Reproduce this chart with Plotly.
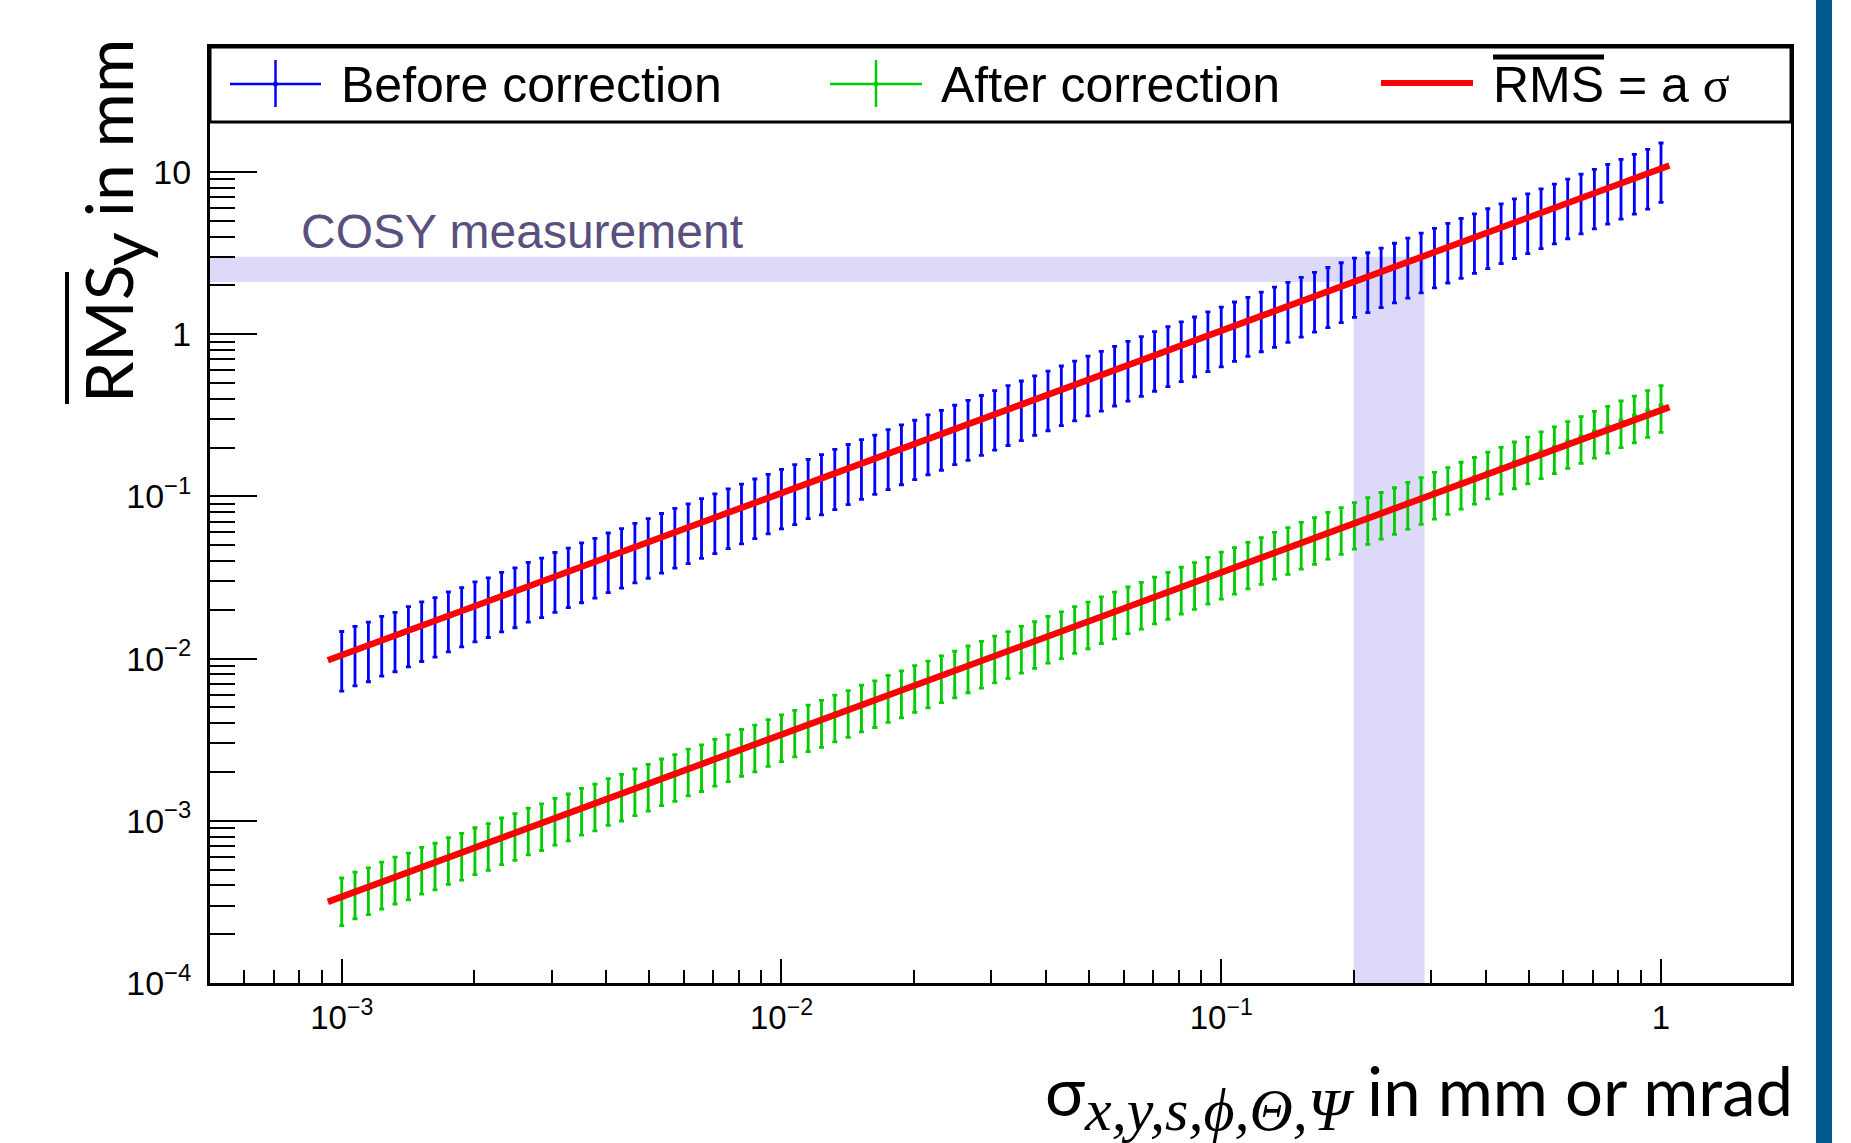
import plotly.graph_objects as go

# ---------------- data ----------------
sigma = [
    1.000e-3, 1.072e-3, 1.150e-3, 1.233e-3, 1.322e-3, 1.418e-3, 1.520e-3, 1.630e-3, 1.748e-3, 1.874e-3,
    2.009e-3, 2.154e-3, 2.310e-3, 2.477e-3, 2.656e-3, 2.848e-3, 3.054e-3, 3.275e-3, 3.511e-3, 3.765e-3,
    4.037e-3, 4.329e-3, 4.642e-3, 4.977e-3, 5.337e-3, 5.722e-3, 6.136e-3, 6.579e-3, 7.055e-3, 7.565e-3,
    8.111e-3, 8.697e-3, 9.326e-3,
    1.000e-2, 1.072e-2, 1.150e-2, 1.233e-2, 1.322e-2, 1.418e-2, 1.520e-2, 1.630e-2, 1.748e-2, 1.874e-2,
    2.009e-2, 2.154e-2, 2.310e-2, 2.477e-2, 2.656e-2, 2.848e-2, 3.054e-2, 3.275e-2, 3.511e-2, 3.765e-2,
    4.037e-2, 4.329e-2, 4.642e-2, 4.977e-2, 5.337e-2, 5.722e-2, 6.136e-2, 6.579e-2, 7.055e-2, 7.565e-2,
    8.111e-2, 8.697e-2, 9.326e-2,
    1.000e-1, 1.072e-1, 1.150e-1, 1.233e-1, 1.322e-1, 1.418e-1, 1.520e-1, 1.630e-1, 1.748e-1, 1.874e-1,
    2.009e-1, 2.154e-1, 2.310e-1, 2.477e-1, 2.656e-1, 2.848e-1, 3.054e-1, 3.275e-1, 3.511e-1, 3.765e-1,
    4.037e-1, 4.329e-1, 4.642e-1, 4.977e-1, 5.337e-1, 5.722e-1, 6.136e-1, 6.579e-1, 7.055e-1, 7.565e-1,
    8.111e-1, 8.697e-1, 9.326e-1,
    1.000,
]

rms_before = [
    1.05e-2, 1.13e-2, 1.20e-2, 1.30e-2, 1.38e-2, 1.49e-2, 1.60e-2, 1.70e-2, 1.84e-2, 1.96e-2,
    2.12e-2, 2.25e-2, 2.43e-2, 2.59e-2, 2.80e-2, 2.98e-2, 3.22e-2, 3.43e-2, 3.69e-2, 3.94e-2,
    4.25e-2, 4.53e-2, 4.88e-2, 5.21e-2, 5.61e-2, 6.02e-2, 6.42e-2, 6.92e-2, 7.40e-2, 7.95e-2,
    8.50e-2, 9.15e-2, 9.78e-2,
    1.05e-1, 1.12e-1, 1.21e-1, 1.29e-1, 1.39e-1, 1.49e-1, 1.60e-1, 1.71e-1, 1.84e-1, 1.97e-1,
    2.11e-1, 2.27e-1, 2.42e-1, 2.61e-1, 2.79e-1, 2.99e-1, 3.21e-1, 3.44e-1, 3.68e-1, 3.96e-1,
    4.23e-1, 4.55e-1, 4.87e-1, 5.23e-1, 5.60e-1, 6.01e-1, 6.45e-1, 6.90e-1, 7.41e-1, 7.94e-1,
    8.52e-1, 9.12e-1, 9.80e-1,
    1.05, 1.13, 1.21, 1.30, 1.39, 1.49, 1.60, 1.72, 1.84, 1.97,
    2.11, 2.27, 2.43, 2.60, 2.79, 3.00, 3.21, 3.45, 3.69, 3.95,
    4.24, 4.55, 4.88, 5.24, 5.62, 6.02, 6.46, 6.93, 7.43, 7.97,
    8.55, 9.17, 9.84,
    10.8,
]

err_before = [
    0.42e-2, 0.45e-2, 0.48e-2, 0.52e-2, 0.55e-2, 0.60e-2, 0.64e-2, 0.68e-2, 0.74e-2, 0.78e-2,
    0.85e-2, 0.90e-2, 0.97e-2, 1.04e-2, 1.12e-2, 1.19e-2, 1.29e-2, 1.37e-2, 1.48e-2, 1.58e-2,
    1.70e-2, 1.81e-2, 1.95e-2, 2.08e-2, 2.24e-2, 2.41e-2, 2.57e-2, 2.77e-2, 2.96e-2, 3.18e-2,
    3.40e-2, 3.66e-2, 3.91e-2,
    0.42e-1, 0.45e-1, 0.48e-1, 0.52e-1, 0.56e-1, 0.60e-1, 0.64e-1, 0.68e-1, 0.74e-1, 0.79e-1,
    0.84e-1, 0.91e-1, 0.97e-1, 1.04e-1, 1.12e-1, 1.20e-1, 1.28e-1, 1.38e-1, 1.47e-1, 1.58e-1,
    1.69e-1, 1.82e-1, 1.95e-1, 2.09e-1, 2.24e-1, 2.40e-1, 2.58e-1, 2.76e-1, 2.96e-1, 3.18e-1,
    3.41e-1, 3.65e-1, 3.92e-1,
    0.42, 0.45, 0.48, 0.52, 0.56, 0.60, 0.64, 0.69, 0.74, 0.79,
    0.84, 0.91, 0.97, 1.04, 1.12, 1.20, 1.28, 1.38, 1.48, 1.58,
    1.70, 1.82, 1.95, 2.10, 2.25, 2.41, 2.58, 2.77, 2.97, 3.19,
    3.42, 3.67, 3.94,
    4.30,
]

rms_after = [
    3.35e-4, 3.66e-4, 3.88e-4, 4.21e-4, 4.52e-4, 4.79e-4, 5.19e-4, 5.51e-4, 5.97e-4, 6.34e-4,
    6.86e-4, 7.28e-4, 7.89e-4, 8.38e-4, 9.07e-4, 9.64e-4, 1.042e-3, 1.108e-3, 1.199e-3, 1.275e-3,
    1.379e-3, 1.466e-3, 1.584e-3, 1.686e-3, 1.822e-3, 1.940e-3, 2.094e-3, 2.229e-3, 2.408e-3, 2.565e-3,
    2.769e-3, 2.948e-3, 3.183e-3,
    3.41e-3, 3.64e-3, 3.92e-3, 4.18e-3, 4.51e-3, 4.81e-3, 5.19e-3, 5.53e-3, 5.96e-3, 6.36e-3,
    6.86e-3, 7.31e-3, 7.88e-3, 8.41e-3, 9.06e-3, 9.67e-3, 1.042e-2, 1.112e-2, 1.198e-2, 1.279e-2,
    1.378e-2, 1.471e-2, 1.584e-2, 1.691e-2, 1.822e-2, 1.945e-2, 2.095e-2, 2.236e-2, 2.410e-2, 2.572e-2,
    2.771e-2, 2.960e-2, 3.190e-2,
    3.43e-2, 3.67e-2, 3.95e-2, 4.22e-2, 4.55e-2, 4.87e-2, 5.24e-2, 5.60e-2, 6.04e-2, 6.46e-2,
    6.95e-2, 7.44e-2, 8.01e-2, 8.57e-2, 9.24e-2, 9.89e-2, 1.066e-1, 1.141e-1, 1.230e-1, 1.317e-1,
    1.420e-1, 1.520e-1, 1.640e-1, 1.757e-1, 1.896e-1, 2.032e-1, 2.193e-1, 2.350e-1, 2.536e-1, 2.720e-1,
    2.937e-1, 3.150e-1, 3.402e-1,
    3.65e-1,
]

err_after = [
    1.09e-4, 1.17e-4, 1.24e-4, 1.35e-4, 1.45e-4, 1.53e-4, 1.66e-4, 1.76e-4, 1.91e-4, 2.03e-4,
    2.20e-4, 2.33e-4, 2.52e-4, 2.68e-4, 2.90e-4, 3.08e-4, 3.33e-4, 3.55e-4, 3.84e-4, 4.08e-4,
    4.41e-4, 4.69e-4, 5.07e-4, 5.40e-4, 5.83e-4, 6.21e-4, 6.70e-4, 7.13e-4, 7.71e-4, 8.21e-4,
    8.86e-4, 9.43e-4, 1.019e-3,
    1.09e-3, 1.16e-3, 1.25e-3, 1.34e-3, 1.44e-3, 1.54e-3, 1.66e-3, 1.77e-3, 1.91e-3, 2.04e-3,
    2.20e-3, 2.34e-3, 2.52e-3, 2.69e-3, 2.90e-3, 3.09e-3, 3.33e-3, 3.56e-3, 3.83e-3, 4.09e-3,
    4.41e-3, 4.71e-3, 5.07e-3, 5.41e-3, 5.83e-3, 6.22e-3, 6.70e-3, 7.16e-3, 7.71e-3, 8.23e-3,
    8.87e-3, 9.47e-3, 1.021e-2,
    1.10e-2, 1.17e-2, 1.26e-2, 1.35e-2, 1.46e-2, 1.56e-2, 1.68e-2, 1.79e-2, 1.93e-2, 2.07e-2,
    2.22e-2, 2.38e-2, 2.56e-2, 2.74e-2, 2.96e-2, 3.16e-2, 3.41e-2, 3.65e-2, 3.94e-2, 4.21e-2,
    4.54e-2, 4.86e-2, 5.25e-2, 5.62e-2, 6.07e-2, 6.50e-2, 7.02e-2, 7.52e-2, 8.12e-2, 8.70e-2,
    9.40e-2, 1.008e-1, 1.089e-1,
    1.17e-1,
]

# fit RMS = a * sigma
fit_sigma_range = [9.3e-4, 1.045]
a_before = 10.5
a_after = 0.34

# COSY measurement band
cosy_rms_range = [2.1, 3.0]
cosy_sigma_range = [0.2, 0.29]

x_tickvals = [1e-3, 1e-2, 1e-1, 1]
x_ticktext = ["10<sup>\u22123</sup>", "10<sup>\u22122</sup>", "10<sup>\u22121</sup>", "1"]
y_tickvals = [1e-4, 1e-3, 1e-2, 1e-1, 1, 10]
y_ticktext = ["10<sup>\u22124</sup>", "10<sup>\u22123</sup>", "10<sup>\u22122</sup>",
              "10<sup>\u22121</sup>", "1", "10"]

# ---------------- layout geometry ----------------
FIG_W, FIG_H = 1851, 1143
L, R, T, B = 210, 1791, 47, 983
W, H = R - L, B - T
XRANGE = [-3.2995, 0.2956]
YRANGE = [-4.0, 1.771]


def px(p):
    return (p - L) / W


def py(p):
    return (B - p) / H


BLUE = "#0000ff"
GREEN = "#00cc00"
RED = "#ff0000"
BAND = "#dcdaf8"
SANS = "Liberation Sans, Arial, sans-serif"
TITLE_FONT = "Lato, Open Sans, sans-serif"

fig = go.Figure()

# COSY band (L shape)
x_lo = 10 ** XRANGE[0] * 0.98
y_lo = 10 ** YRANGE[0] * 0.98
fig.add_trace(go.Scatter(
    x=[x_lo, cosy_sigma_range[0], cosy_sigma_range[0], cosy_sigma_range[1], cosy_sigma_range[1], x_lo, x_lo],
    y=[cosy_rms_range[0], cosy_rms_range[0], y_lo, y_lo, cosy_rms_range[1], cosy_rms_range[1], cosy_rms_range[0]],
    fill="toself", fillcolor=BAND, mode="lines", line=dict(width=0, color=BAND),
    hoverinfo="skip", showlegend=False,
))

fig.add_trace(go.Scatter(
    x=sigma, y=rms_before, mode="markers", name="Before correction",
    marker=dict(color=BLUE, size=4),
    error_y=dict(type="data", array=err_before, color=BLUE, thickness=2.8, width=2.5),
    showlegend=False,
))
fig.add_trace(go.Scatter(
    x=sigma, y=rms_after, mode="markers", name="After correction",
    marker=dict(color=GREEN, size=5),
    error_y=dict(type="data", array=err_after, color=GREEN, thickness=2.8, width=2.5),
    showlegend=False,
))
for a in (a_before, a_after):
    fig.add_trace(go.Scatter(
        x=fit_sigma_range, y=[a * s for s in fit_sigma_range], mode="lines",
        line=dict(color=RED, width=6.5), name="RMS = a \u03c3", showlegend=False,
    ))

shapes = []
annotations = []

# legend box
shapes.append(dict(type="rect", xref="paper", yref="paper", x0=0, x1=1, y0=py(122), y1=1,
                   fillcolor="white", line=dict(color="black", width=3), layer="above"))
# legend symbols
for (xa, xb, col) in [(230, 321, BLUE), (830, 922, GREEN)]:
    xc = (xa + xb) / 2
    shapes.append(dict(type="line", xref="paper", yref="paper", x0=px(xa), x1=px(xb), y0=py(84), y1=py(84),
                       line=dict(color=col, width=2.5), layer="above"))
    shapes.append(dict(type="line", xref="paper", yref="paper", x0=px(xc), x1=px(xc), y0=py(60), y1=py(107),
                       line=dict(color=col, width=2.5), layer="above"))
    shapes.append(dict(type="circle", xref="paper", yref="paper", x0=px(xc - 2.5), x1=px(xc + 2.5),
                       y0=py(86.5), y1=py(81.5), fillcolor=col, line=dict(color=col, width=0), layer="above"))
shapes.append(dict(type="line", xref="paper", yref="paper", x0=px(1381), x1=px(1473), y0=py(83), y1=py(83),
                   line=dict(color=RED, width=6), layer="above"))
# overline on legend RMS
shapes.append(dict(type="line", xref="paper", yref="paper", x0=px(1493), x1=px(1604), y0=py(57), y1=py(57),
                   line=dict(color="black", width=5), layer="above"))
# overline on y title RMS
shapes.append(dict(type="line", xref="paper", yref="paper", x0=px(67), x1=px(67), y0=py(404), y1=py(272),
                   line=dict(color="black", width=4), layer="above"))
# blue slide bar at right edge
shapes.append(dict(type="rect", xref="paper", yref="paper", x0=px(1816), x1=px(1832), y0=py(1150), y1=py(-10),
                   fillcolor="#005a8c", line=dict(width=0), layer="above"))

leg_font = dict(family=SANS, size=50, color="black")
annotations.append(dict(xref="paper", yref="paper", x=px(339), y=py(85), xanchor="left", yanchor="middle",
                        text="Before correction", showarrow=False, font=leg_font))
annotations.append(dict(xref="paper", yref="paper", x=px(939), y=py(85), xanchor="left", yanchor="middle",
                        text="After correction", showarrow=False, font=leg_font))
annotations.append(dict(xref="paper", yref="paper", x=px(1491), y=py(85), xanchor="left", yanchor="middle",
                        text="RMS = a <span style='font-family:Liberation Serif'>\u03c3</span>",
                        showarrow=False, font=leg_font))
annotations.append(dict(xref="paper", yref="paper", x=px(299), y=py(232), xanchor="left", yanchor="middle",
                        text="COSY measurement", showarrow=False,
                        font=dict(family=SANS, size=48, color="#5b4f80")))
# axis titles
annotations.append(dict(xref="paper", yref="paper", x=px(1795), y=py(1096), xanchor="right", yanchor="middle",
                        text="\u03c3<sub><span style='font-family:Liberation Serif;font-style:italic;font-size:60px'>"
                             "x,y,s,\u03d5,\u0398,\u03a8</span></sub> in mm or mrad",
                        showarrow=False, font=dict(family=TITLE_FONT, size=67, color="black")))
annotations.append(dict(xref="paper", yref="paper", x=px(114), y=py(221), xanchor="center", yanchor="middle",
                        textangle=-90,
                        text="RMS<sub><span style='font-size:66px'>y</span></sub> in mm",
                        showarrow=False, font=dict(family=TITLE_FONT, size=66, color="black")))

fig.update_layout(
    width=FIG_W, height=FIG_H,
    margin=dict(l=L, r=FIG_W - R, t=T, b=FIG_H - B, pad=0),
    paper_bgcolor="white", plot_bgcolor="white",
    shapes=shapes, annotations=annotations,
    showlegend=False,
)

fig.update_xaxes(
    type="log", range=XRANGE, showgrid=False, zeroline=False,
    showline=True, linecolor="black", linewidth=3, mirror=True,
    ticks="inside", ticklen=24, tickwidth=2, tickcolor="black",
    tickvals=x_tickvals, ticktext=x_ticktext, ticklabelstandoff=3,
    tickfont=dict(family=SANS, size=33, color="black"),
    minor=dict(ticks="inside", ticklen=13, tickwidth=2, tickcolor="black", showgrid=False,
               tickvals=[m * 10 ** e for e in range(-4, 0) for m in range(2, 10)]),
)
fig.update_yaxes(
    type="log", range=YRANGE, showgrid=False, zeroline=False,
    showline=True, linecolor="black", linewidth=3, mirror=True,
    ticks="inside", ticklen=47, tickwidth=2, tickcolor="black",
    tickvals=y_tickvals, ticktext=y_ticktext, ticklabelstandoff=9,
    tickfont=dict(family=SANS, size=34, color="black"),
    minor=dict(ticks="inside", ticklen=25, tickwidth=2, tickcolor="black", showgrid=False,
               tickvals=[m * 10 ** e for e in range(-4, 1) for m in range(2, 10)]),
)

fig.write_html("out.html")
